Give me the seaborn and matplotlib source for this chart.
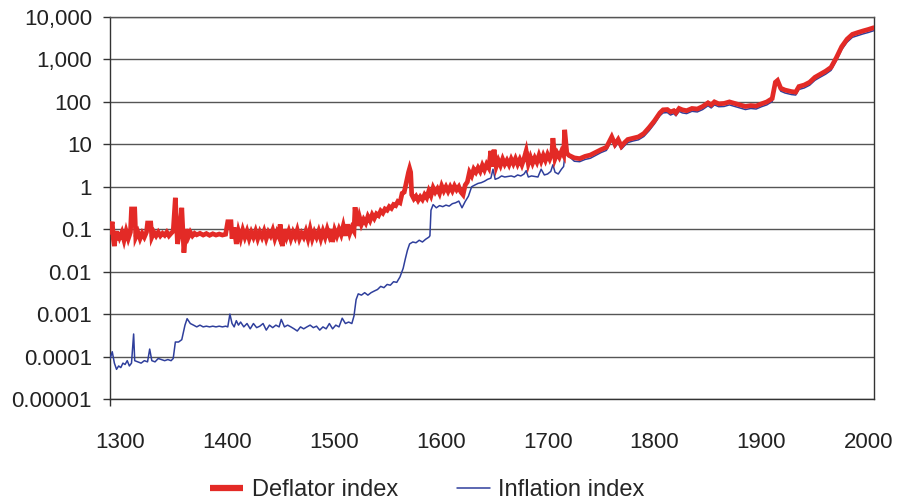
import matplotlib
matplotlib.use("Agg")
import matplotlib.pyplot as plt
import matplotlib.ticker as mticker
import pandas as pd
import seaborn as sns

# Deflator index (log scale)
deflator_years = [
    1291, 1292, 1293, 1294, 1295, 1296, 1297, 1298, 1299, 1300,
    1302, 1304, 1306, 1308, 1310, 1311, 1314, 1315, 1317, 1319,
    1321, 1323, 1325, 1326, 1329, 1330, 1332, 1334, 1336, 1338,
    1340, 1342, 1344, 1346, 1348, 1350, 1352, 1354, 1356, 1358,
    1360, 1362, 1364, 1366, 1368, 1370, 1372, 1375, 1378, 1381,
    1384, 1387, 1390, 1393, 1396, 1399, 1401, 1404, 1405, 1407,
    1409, 1411, 1413, 1415, 1417, 1419, 1421, 1423, 1425, 1427,
    1429, 1431, 1433, 1435, 1437, 1439, 1441, 1443, 1445, 1447,
    1449, 1450, 1452, 1454, 1456, 1458, 1460, 1462, 1464, 1466,
    1468, 1470, 1472, 1474, 1476, 1478, 1480, 1482, 1484, 1486,
    1488, 1490, 1492, 1494, 1496, 1498, 1499, 1501, 1503, 1505,
    1507, 1509, 1511, 1513, 1515, 1517, 1519, 1520, 1522, 1524,
    1526, 1528, 1530, 1532, 1534, 1536, 1538, 1540, 1542, 1544,
    1546, 1548, 1550, 1552, 1554, 1556, 1558, 1560, 1562, 1564,
    1566, 1568, 1570, 1571, 1572, 1573, 1575, 1577, 1579, 1581,
    1583, 1585, 1587, 1589, 1591, 1593, 1595, 1597, 1599, 1601,
    1603, 1605, 1607, 1609, 1611, 1613, 1615, 1617, 1619, 1621,
    1623, 1625, 1627, 1629, 1631, 1633, 1635, 1637, 1639, 1641,
    1643, 1645, 1647, 1648, 1650, 1652, 1654, 1656, 1658, 1660,
    1662, 1664, 1666, 1668, 1670, 1672, 1674, 1676, 1678, 1680,
    1682, 1684, 1686, 1688, 1690, 1692, 1694, 1696, 1698, 1700,
    1702, 1704, 1705, 1707, 1709, 1711, 1713, 1715, 1716, 1718,
    1720, 1725, 1730, 1735, 1740, 1745, 1750, 1755, 1760, 1763,
    1766, 1769, 1772, 1775, 1780, 1785, 1790, 1795, 1800, 1805,
    1808, 1812, 1815, 1818, 1820, 1823, 1826, 1830, 1835, 1840,
    1845, 1850, 1853, 1856, 1860, 1865, 1870, 1875, 1880, 1885,
    1890, 1895, 1900, 1905, 1910, 1913, 1915, 1918, 1922, 1928,
    1932, 1935, 1940, 1945, 1950, 1955, 1960, 1965, 1970, 1975,
    1980, 1985, 1990, 1995, 2000, 2005,
]
deflator_values = [
    0.085, 0.12, 0.15, 0.06, 0.04, 0.07, 0.09, 0.055, 0.08, 0.065,
    0.085, 0.055, 0.09, 0.06, 0.085, 0.3, 0.3, 0.065, 0.085, 0.06,
    0.08, 0.065, 0.085, 0.14, 0.14, 0.065, 0.085, 0.07, 0.085, 0.07,
    0.08, 0.072, 0.085, 0.07, 0.08, 0.09, 0.55, 0.045, 0.085, 0.32,
    0.028, 0.1, 0.065, 0.085, 0.07, 0.08, 0.074, 0.08, 0.073, 0.079,
    0.072, 0.078, 0.073, 0.077, 0.073, 0.076, 0.15, 0.15, 0.06, 0.11,
    0.045, 0.09, 0.06, 0.095, 0.065, 0.09, 0.06, 0.085, 0.065, 0.09,
    0.06, 0.085, 0.065, 0.09, 0.06, 0.085, 0.07, 0.095, 0.06, 0.085,
    0.065, 0.13, 0.04, 0.1, 0.065, 0.09, 0.06, 0.085, 0.065, 0.095,
    0.06, 0.08, 0.065, 0.09, 0.06, 0.1, 0.06, 0.085, 0.065, 0.09,
    0.06, 0.09, 0.065, 0.1, 0.07, 0.1, 0.05, 0.095, 0.07, 0.1,
    0.075, 0.12, 0.07, 0.13, 0.08, 0.11, 0.09, 0.33, 0.12, 0.2,
    0.13, 0.17, 0.14, 0.2, 0.16, 0.22, 0.18, 0.23, 0.21, 0.27,
    0.24, 0.3, 0.28, 0.34, 0.31, 0.38, 0.36, 0.45, 0.42, 0.7,
    0.75, 1.3, 2.2, 2.7, 2.2, 0.65, 0.52, 0.6, 0.48, 0.58,
    0.5, 0.65, 0.55, 0.8, 0.62, 0.95, 0.75, 0.9, 0.7, 1.05,
    0.8, 1.0, 0.78, 1.0, 0.8, 1.05, 0.85, 1.0, 0.75, 0.65,
    1.1, 1.3, 2.2, 1.8, 2.6, 2.2, 2.8, 2.3, 3.2, 2.5,
    3.4, 2.8, 7.0, 3.0, 7.5, 3.0, 4.2, 3.2, 4.5, 3.4,
    4.2, 3.3, 4.5, 3.5, 4.6, 3.4, 4.4, 3.3, 4.6, 7.0,
    3.5, 5.0, 3.6, 4.8, 3.8, 5.5, 4.0, 5.5, 4.2, 5.8,
    4.5, 6.0, 14, 4.6, 6.2, 5.0, 6.8, 5.5, 22, 6.2,
    5.5, 4.8, 4.6, 5.2, 5.6, 6.5, 7.5, 8.5, 15, 10,
    13, 9, 11, 13, 14, 15, 18, 25, 36, 55,
    65, 66, 58, 62, 55, 70, 65, 62, 70, 68,
    78, 95, 85, 100, 90, 92, 100, 92, 85, 78,
    82, 80, 90, 100, 120, 290, 320, 210, 190, 175,
    170, 230, 250, 290, 380, 450, 530, 650, 1100, 2000,
    3000, 3900, 4300, 4700, 5100, 5600,
]

# Inflation index (log scale)
inflation_years = [
    1291, 1293, 1295, 1297, 1299, 1301, 1303, 1305, 1307, 1309,
    1311, 1313, 1314, 1317, 1320, 1323, 1326, 1328, 1330, 1333,
    1336, 1339, 1342, 1345, 1348, 1350, 1352, 1355, 1358, 1361,
    1363, 1366, 1369, 1372, 1375, 1378, 1381, 1384, 1387, 1390,
    1393, 1396, 1399, 1401, 1403, 1405, 1407, 1409, 1411, 1413,
    1416, 1419, 1422, 1425, 1428, 1431, 1434, 1437, 1440, 1443,
    1446, 1449, 1451, 1454, 1457, 1460, 1463, 1466, 1469, 1472,
    1475, 1478, 1481, 1484, 1487, 1490, 1493, 1496, 1499, 1502,
    1505, 1508, 1511, 1514, 1517, 1519, 1521, 1523, 1526, 1529,
    1532, 1535, 1538, 1541, 1544, 1547, 1550, 1553, 1556, 1559,
    1562, 1565, 1567, 1569, 1571, 1574, 1577, 1580, 1583, 1586,
    1589, 1590, 1591, 1593, 1596, 1599, 1602, 1605, 1608, 1611,
    1614, 1617, 1620, 1623, 1626, 1629, 1632, 1635, 1638, 1641,
    1644, 1647, 1649, 1651, 1654, 1657, 1660, 1663, 1666, 1669,
    1672, 1675, 1678, 1680, 1682, 1685, 1688, 1691, 1694, 1697,
    1700, 1703, 1705, 1707, 1710, 1713, 1715, 1717, 1719, 1722,
    1725, 1730, 1735, 1740, 1745, 1750, 1755, 1760, 1763, 1766,
    1769, 1772, 1775, 1780, 1785, 1790, 1795, 1800, 1805, 1808,
    1812, 1815, 1818, 1820, 1823, 1826, 1830, 1835, 1840, 1845,
    1850, 1853, 1856, 1860, 1865, 1870, 1875, 1880, 1885, 1890,
    1895, 1900, 1905, 1910, 1913, 1915, 1918, 1922, 1928, 1932,
    1935, 1940, 1945, 1950, 1955, 1960, 1965, 1970, 1975, 1980,
    1985, 1990, 1995, 2000, 2005,
]
inflation_values = [
    9e-5, 1.3e-4, 7e-5, 5e-5, 6e-5, 5.5e-5, 7e-5, 6.5e-5, 8e-5, 6e-5,
    7e-5, 3.4e-4, 8e-5, 7.5e-5, 7e-5, 8e-5, 7.5e-5, 1.5e-4, 8e-5, 7.5e-5,
    9e-5, 8.5e-5, 8e-5, 8.5e-5, 8e-5, 9e-5, 2.2e-4, 2.2e-4, 2.5e-4, 5.5e-4,
    7.8e-4, 6e-4, 5.5e-4, 5e-4, 5.5e-4, 5e-4, 5.2e-4, 5e-4, 5.2e-4, 5e-4,
    5.2e-4, 5e-4, 5.2e-4, 5e-4, 1e-3, 6e-4, 5e-4, 7e-4, 5.5e-4, 6.5e-4,
    5e-4, 6e-4, 4.5e-4, 6e-4, 4.8e-4, 5.2e-4, 6e-4, 4.2e-4, 5.5e-4, 4.8e-4,
    5.5e-4, 5e-4, 7.5e-4, 5e-4, 5.5e-4, 5e-4, 4.5e-4, 4e-4, 5e-4, 4.5e-4,
    5e-4, 5.5e-4, 4.8e-4, 5.2e-4, 4.2e-4, 5e-4, 4.5e-4, 6e-4, 4.5e-4, 5.5e-4,
    5e-4, 8e-4, 6e-4, 6.5e-4, 6e-4, 9e-4, 2.2e-3, 3e-3, 2.8e-3, 3.2e-3,
    2.8e-3, 3.2e-3, 3.5e-3, 3.8e-3, 4.5e-3, 4.2e-3, 5e-3, 4.8e-3, 5.8e-3, 5.6e-3,
    7.5e-3, 0.012, 0.02, 0.032, 0.045, 0.05, 0.048, 0.055, 0.05, 0.058,
    0.065, 0.07, 0.28, 0.38, 0.32, 0.36, 0.34, 0.37, 0.35, 0.4,
    0.42, 0.46, 0.32, 0.45, 0.6, 1.0, 1.1, 1.2, 1.25, 1.35,
    1.5, 1.6, 2.6, 1.5, 1.6, 1.8, 1.7, 1.75, 1.8, 1.7,
    1.9, 1.8, 2.0, 2.4, 1.7, 1.8, 1.75, 1.7, 2.6, 1.9,
    2.0, 2.3, 3.3, 2.2, 2.0, 2.6, 3.0, 9.0, 5.3, 4.7,
    4.0, 3.9, 4.4, 4.7, 5.5, 6.4, 7.2, 12.5, 8.5, 11,
    7.7, 9.3, 11, 12, 12.8, 15.3, 21, 30.5, 47, 55,
    56, 49, 53, 47, 60, 55, 53, 60, 58, 66,
    81, 72, 85, 77, 78, 85, 78, 72, 66, 70,
    68, 77, 85, 102, 247, 272, 179, 162, 149, 145,
    196, 213, 247, 323, 383, 450, 553, 935, 1700, 2550,
    3320, 3650, 4000, 4330, 4760,
]

x_tick_years = [1300, 1400, 1500, 1600, 1700, 1800, 1900, 2000]
y_tick_values = [1e-5, 1e-4, 1e-3, 1e-2, 1e-1, 1, 10, 100, 1000, 10000]
y_tick_labels = ["0.00001", "0.0001", "0.001", "0.01", "0.1", "1", "10", "100",
                 "1,000", "10,000"]

RED = "#E32A26"
BLUE = "#2F3F9C"

sns.set_style("white")
plt.rcParams["font.family"] = ["Liberation Sans", "DejaVu Sans"]

deflator = pd.DataFrame({"year": deflator_years, "value": deflator_values})
inflation = pd.DataFrame({"year": inflation_years, "value": inflation_values})

fig = plt.figure(figsize=(8.98, 5.03), dpi=100)
ax = fig.add_axes([110 / 898, 1 - 399 / 503, (874 - 110) / 898, (399 - 17) / 503])

sns.lineplot(data=inflation, x="year", y="value", ax=ax, color=BLUE, lw=1.1,
             estimator=None, label="Inflation index", zorder=3)
sns.lineplot(data=deflator, x="year", y="value", ax=ax, color=RED, lw=3.4,
             estimator=None, label="Deflator index", zorder=4,
             solid_joinstyle="miter")

ax.set_yscale("log")
ax.set_ylim(1e-5, 1e4)
ax.set_xlim(1290.9, 2005.2)

ax.set_yticks(y_tick_values)
ax.set_yticklabels(y_tick_labels)
ax.yaxis.set_minor_locator(mticker.NullLocator())
ax.tick_params(axis="y", which="major", length=5, width=1, color="#333333",
               labelsize=16, pad=8, labelcolor="#222222", left=True)

ax.set_xticks(x_tick_years)
ax.set_xticklabels([str(y) for y in x_tick_years])
ax.set_xticks([1290.9] + x_tick_years[1:], minor=True)
ax.tick_params(axis="x", which="major", length=0, labelsize=16, pad=24,
               labelcolor="#222222")
ax.tick_params(axis="x", which="minor", length=5, width=1, color="#333333",
               bottom=True)

ax.set_xlabel("")
ax.set_ylabel("")
ax.grid(axis="y", which="major", color="#555555", lw=1.0)
ax.set_axisbelow(True)

for side in ["left", "bottom", "right", "top"]:
    ax.spines[side].set_visible(True)
    ax.spines[side].set_color("#333333")
    ax.spines[side].set_linewidth(1.0)
ax.spines["top"].set_color("#555555")

handles, labels = ax.get_legend_handles_labels()
ax.get_legend().remove()
order = [labels.index("Deflator index"), labels.index("Inflation index")]
leg = fig.legend([handles[i] for i in order], [labels[i] for i in order],
                 loc="center", bbox_to_anchor=(0.476, 0.025), ncol=2, frameon=False,
                 fontsize=17, handlelength=1.4, handletextpad=0.35, columnspacing=2.5)
for line in leg.get_lines():
    if line.get_color() == RED:
        line.set_linewidth(4.5)
        line.set_solid_capstyle("butt")

fig.savefig("out.png", dpi=100)
